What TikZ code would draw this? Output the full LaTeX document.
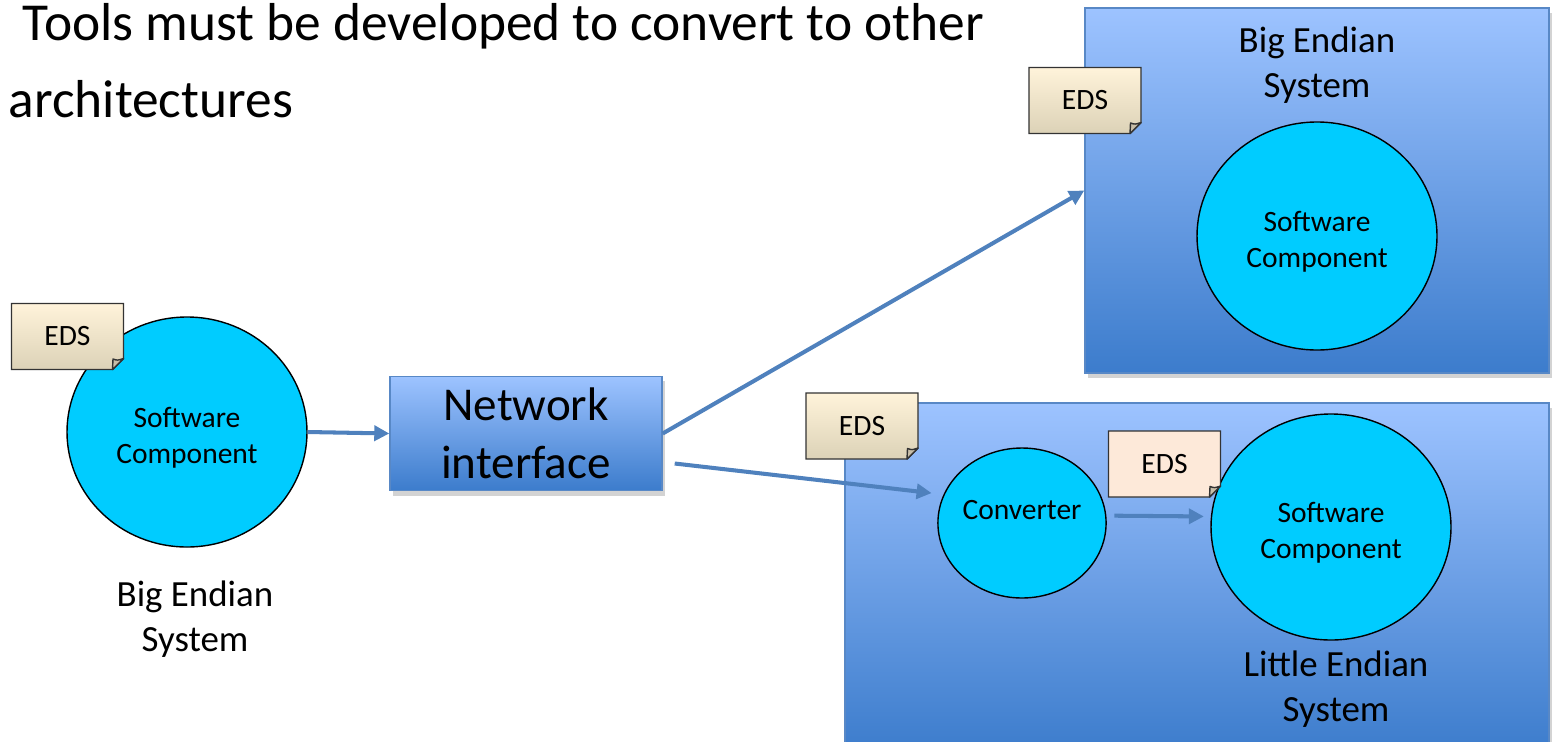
\documentclass[tikz,border=0pt]{standalone}
\usepackage{fontspec}
\setmainfont{Carlito}
\usetikzlibrary{shapes.geometric}
\usetikzlibrary{shadows}
\usetikzlibrary{arrows.meta}
\definecolor{boxtop}{RGB}{157,195,255}
\definecolor{boxbot}{RGB}{60,124,204}
\definecolor{boxline}{RGB}{88,136,198}
\definecolor{compcyan}{RGB}{0,204,255}
\definecolor{notetop}{RGB}{255,243,218}
\definecolor{notebot}{RGB}{220,210,183}
\definecolor{notepeach}{RGB}{253,233,217}
\definecolor{foldtan}{RGB}{200,190,168}
\definecolor{flowblue}{RGB}{79,129,189}

\begin{document}
\begin{tikzpicture}[
    sysbox/.style={rectangle, draw=boxline, top color=boxtop, bottom color=boxbot,
      drop shadow={opacity=0.35, shadow xshift=0.03cm, shadow yshift=-0.05cm}},
    comp/.style={ellipse, draw=black, fill=compcyan, inner sep=0pt, align=center,
      text height=6.8mm, font=\fontsize{8.4}{10.3}\selectfont},
    edsnote/.style={inner sep=0pt, font=\fontsize{8.4}{10}\selectfont},
    sysname/.style={align=center, font=\fontsize{10.5}{12.8}\selectfont},
    flow/.style={draw=flowblue, line width=1.15pt,
      -{Triangle[length=0.15cm,width=0.15cm]}}
  ]
  \useasboundingbox (0,0) rectangle (15.54,7.41);
  \clip (0,0) rectangle (15.54,7.41);

  % heading
  \node[anchor=base west, inner sep=0pt, font=\fontsize{15.2}{18}\selectfont] (head1)
    at (0.22,7.01) {Tools must be developed to convert to other};
  \node[anchor=base west, inner sep=0pt, font=\fontsize{15.2}{18}\selectfont] (head2)
    at (0.08,6.24) {architectures};

  % the two target systems
  \node[sysbox, minimum width=4.64cm, minimum height=3.65cm] (bigsys) at (13.17,5.505) {};
  \node[sysbox, minimum width=7.04cm, minimum height=3.50cm] (littlesys) at (11.97,1.63) {};
  \node[sysname] (bigname) at (13.17,6.755) {Big Endian\\System};
  \node[sysname] (littlename) at (13.36,0.515) {Little Endian\\System};

  % sender
  \node[comp, minimum width=2.40cm, minimum height=2.30cm] (swleft) at (1.87,3.09) {Software\\Component};
  \node[sysname] (leftname) at (1.95,1.215) {Big Endian\\System};
  \node[sysbox, minimum width=2.72cm, minimum height=1.13cm, align=center,
    font=\fontsize{13.4}{16.4}\selectfont] (netif) at (5.26,3.075) {Network\\interface};

  % receivers
  \node[comp, minimum width=2.40cm, minimum height=2.28cm] (swbig) at (13.17,5.05) {Software\\Component};
  \node[comp, minimum width=1.68cm, minimum height=1.50cm, text height=1.6mm, text depth=2.4mm]
    (conv) at (10.22,2.18) {Converter};
  \node[comp, minimum width=2.40cm, minimum height=2.26cm] (swlittle) at (13.31,2.14) {Software\\Component};

  % data sheets (paper with a turned corner)
  \foreach \n/\x/\y/\ct/\cb in {edsleft/0.675/4.045/notetop/notebot,
                               edsbig/10.85/6.405/notetop/notebot,
                               edslittle/8.62/3.15/notetop/notebot,
                               edsconv/11.645/2.77/notepeach/notepeach} {
    \begin{scope}[shift={(\x,\y)}]
      \path[draw=black!80, top color=\ct, bottom color=\cb]
        (-0.56,0.33) -- (0.56,0.33) -- (0.56,-0.22) -- (0.45,-0.33) -- (-0.56,-0.33) -- cycle;
      \filldraw[fill=foldtan, draw=black!80, line join=round]
        (0.45,-0.33) -- (0.56,-0.22) .. controls (0.50,-0.24) .. (0.455,-0.225)
        .. controls (0.46,-0.28) .. cycle;
    \end{scope}
    \node[edsnote] (\n) at (\x,\y) {EDS};
  }

  % data flow
  \draw[flow] (swleft.east) -- (netif.west);
  \draw[flow] (netif.east) -- (bigsys.west);
  \coordinate (netout) at ([shift={(0.12,-0.30)}]netif.east);
  \draw[flow, shorten >=0.12cm] (netout) -- (conv.160);
  \draw[flow, shorten <=0.08cm, shorten >=0.07cm] (conv.5) -- (swlittle.175);
\end{tikzpicture}
\end{document}
